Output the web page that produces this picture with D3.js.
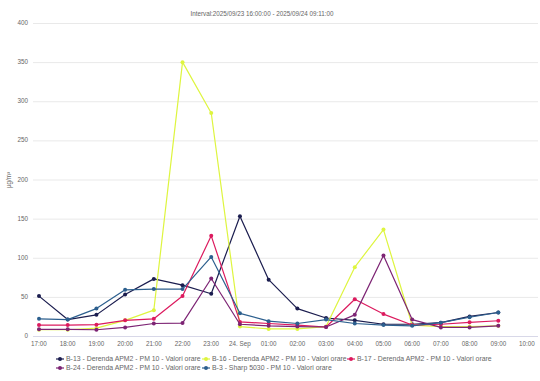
<!DOCTYPE html>
<html><head><meta charset="utf-8">
<script src="https://cdn.jsdelivr.net/npm/d3@7"></script>
<style>body{margin:0;background:#fff}svg{display:block;font-family:"Liberation Sans",Arial,sans-serif}</style>
</head><body><svg id="c" width="540" height="381"></svg>
<script>
const title = "Interval:2025/09/23 16:00:00 - 2025/09/24 09:11:00";
const yLabel = "µg/m³";
const hours = ["17:00","18:00","19:00","20:00","21:00","22:00","23:00","00:00","01:00","02:00","03:00","04:00","05:00","06:00","07:00","08:00","09:00"];
const tickLabels = ["17:00","18:00","19:00","20:00","21:00","22:00","23:00","24. Sep","01:00","02:00","03:00","04:00","05:00","06:00","07:00","08:00","09:00","10:00"];
const yTicks = [0,50,100,150,200,250,300,350,400];
const seriesNames = ["B-13 - Derenda APM2 - PM 10 - Valori orare","B-16 - Derenda APM2 - PM 10 - Valori orare","B-17 - Derenda APM2 - PM 10 - Valori orare","B-24 - Derenda APM2 - PM 10 - Valori orare","B-3 - Sharp 5030 - PM 10 - Valori orare"];
const seriesColors = ["#1b1d4f","#def53f","#dc1a5e","#7d2474","#2c5f8e"];
const b13 = [51,21,27,53,73,65,54,153,72,35,23,20,15,15,17,25,30];
const b16 = [8,8,10,20,33,350,285,12,9,9,12,88,136,14,12,12,13];
const b17 = [14,14,14.5,20,22,51,128,18,16,14,11.5,47,28,14,15,17.5,19.5];
const b24 = [8.5,8.5,8,11,16,16.5,73.5,15,13,12,11.5,27,103,21,11,11,13];
const b3 = [22,21,35,59,60,60,101,29,19,16,21,16,14,13,17,24,30];
const seriesValues = [b13,b16,b17,b24,b3];

const svg = d3.select("#c");
const t0 = new Date(2025,8,23,17,0,0);
const times = hours.map((h,i)=>new Date(t0.getTime()+i*3600e3));
const tickTimes = tickLabels.map((h,i)=>new Date(t0.getTime()+i*3600e3));
const x = d3.scaleTime().domain([tickTimes[0],tickTimes[tickTimes.length-1]]).range([39,527]);
const y = d3.scaleLinear().domain([0,400]).range([336,23]);

svg.append("text").attr("x",262).attr("y",16).attr("text-anchor","middle")
  .attr("font-size",6.3).attr("fill","#666").text(title);

// grid
svg.append("g").selectAll("line").data(yTicks).join("line")
  .attr("x1",33).attr("x2",538).attr("y1",d=>y(d)+0.5).attr("y2",d=>y(d)+0.5)
  .attr("stroke",d=>d===0?"#d8d8e8":"#e9e9e9").attr("stroke-width",1);
svg.append("g").selectAll("text").data(yTicks).join("text")
  .attr("x",28).attr("y",d=>y(d)+2).attr("text-anchor","end")
  .attr("font-size",6.3).attr("fill","#666").text(d=>d);
svg.append("text").attr("transform","translate(11,180) rotate(-90)").attr("text-anchor","middle")
  .attr("font-size",6.3).attr("fill","#666").text(yLabel);

// x axis labels
svg.append("g").selectAll("text").data(tickTimes).join("text")
  .attr("x",d=>x(d)).attr("y",346).attr("text-anchor","middle")
  .attr("font-size",6.3).attr("fill","#666").text((d,i)=>tickLabels[i]);

const line = d3.line().x((d,i)=>x(times[i])).y(d=>y(d));
seriesValues.forEach((vals,k)=>{
  const g = svg.append("g");
  g.append("path").datum(vals).attr("d",line).attr("fill","none")
    .attr("stroke",seriesColors[k]).attr("stroke-width",1.2).attr("stroke-linejoin","round");
  g.selectAll("circle").data(vals).join("circle")
    .attr("cx",(d,i)=>x(times[i])).attr("cy",d=>y(d)).attr("r",2).attr("fill",seriesColors[k]);
});

// legend
const legPos = [[56,359],[202,359],[347,359],[56,368],[202,368]];
seriesNames.forEach((n,k)=>{
  const [lx,ly] = legPos[k];
  const g = svg.append("g");
  g.append("line").attr("x1",lx).attr("x2",lx+8).attr("y1",ly).attr("y2",ly)
    .attr("stroke",seriesColors[k]).attr("stroke-width",1.2);
  g.append("circle").attr("cx",lx+4).attr("cy",ly).attr("r",2).attr("fill",seriesColors[k]);
  g.append("text").attr("x",lx+10).attr("y",ly+2.4).attr("font-size",6.9).attr("fill","#666").text(n);
});
</script></body></html>
